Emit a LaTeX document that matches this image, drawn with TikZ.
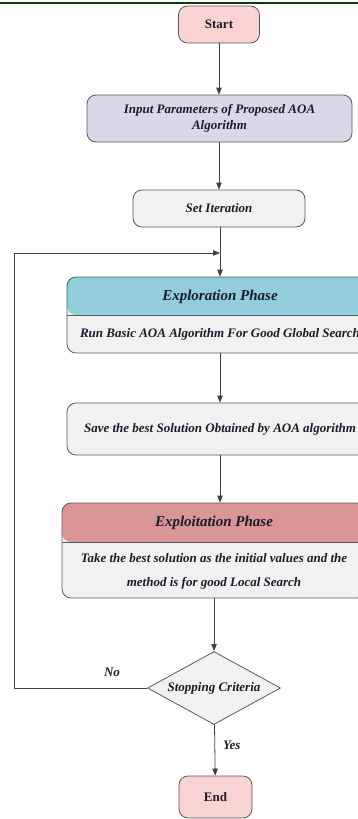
\documentclass[tikz,border=0pt]{standalone}
\usepackage{fontspec}
\setmainfont{Liberation Serif}
\usetikzlibrary{shapes.geometric,arrows.meta,calc}
\definecolor{topgreen}{HTML}{0E3A12}
\definecolor{bordergray}{HTML}{5A5A5A}
\definecolor{linegray}{HTML}{404040}
\definecolor{pinkfill}{HTML}{F9D2D2}
\definecolor{lavfill}{HTML}{DCD7E8}
\definecolor{lightfill}{HTML}{F1F1F1}
\definecolor{headblue}{HTML}{92CDDC}
\definecolor{headred}{HTML}{D99694}
\definecolor{txt}{HTML}{1C1C28}
\begin{document}
\begin{tikzpicture}[x=1pt,y=-1pt,
  box/.style={draw=bordergray, line width=0.8pt, rounded corners=9pt, inner sep=0pt, align=center, text=txt,
    font=\fontsize{13}{16}\selectfont\bfseries\itshape},
  termbox/.style={box, fill=pinkfill, font=\fontsize{13}{16}\selectfont\bfseries},
  lbl/.style={text=txt, inner sep=0pt, align=center, font=\fontsize{13}{16}\selectfont\bfseries\itshape},
  titlelbl/.style={lbl, font=\fontsize{15}{18}\selectfont\bfseries\itshape},
  arr/.style={draw=linegray, line width=0.8pt, -{Triangle[length=7pt,width=5.5pt]}},
  plain/.style={draw=linegray, line width=0.8pt}
]
\useasboundingbox (0,0) rectangle (358,819);
\clip (0,0) rectangle (358,819);
\fill[topgreen] (0,1.5) rectangle (358,4);

\node[termbox, minimum width=81pt, minimum height=37pt] (start) at (219,24.5) {Start};
\node[box, fill=lavfill, minimum width=265pt, minimum height=47pt] (input) at (219.5,118.5)
  {Input Parameters of Proposed AOA\\Algorithm};
\node[box, fill=lightfill, minimum width=172pt, minimum height=37pt] (setit) at (219,208.5) {Set Iteration};

\coordinate (merge) at (220,253);

\node[box, fill=lightfill, minimum width=306pt, minimum height=76pt,
  path picture={\fill[headblue] (path picture bounding box.north west) rectangle (path picture bounding box.east);
    \draw[bordergray, line width=0.8pt] (path picture bounding box.west) -- (path picture bounding box.east);}]
  (explore) at (220,315) {};
\node[titlelbl] (exploretitle) at (220,296.5) {Exploration Phase};
\node[lbl] (exploretext) at (220,334) {Run Basic AOA Algorithm For Good Global Search};

\node[box, fill=lightfill, minimum width=306pt, minimum height=52pt] (save) at (220,429)
  {Save the best Solution Obtained by AOA algorithm};

\node[box, fill=lightfill, minimum width=304pt, minimum height=95pt,
  path picture={\fill[headred] (path picture bounding box.north west) rectangle ($(path picture bounding box.north east)+(0,39)$);
    \draw[bordergray, line width=0.8pt] ($(path picture bounding box.north west)+(0,39)$) -- ($(path picture bounding box.north east)+(0,39)$);}]
  (exploit) at (214,550.5) {};
\node[titlelbl] (exploittitle) at (214,523) {Exploitation Phase};
\node[lbl, font=\fontsize{13}{24}\selectfont\bfseries\itshape] (exploittext) at (214,571)
  {Take the best solution as the initial values and the\\method is for good Local Search};

\node[diamond, aspect=1.82, draw=bordergray, line width=0.8pt, fill=lightfill, inner sep=0pt,
  minimum width=133pt, minimum height=73pt, lbl] (stop) at (214,688) {Stopping Criteria};

\node[termbox, minimum width=73pt, minimum height=42pt] (end) at (215.5,797) {End};

\coordinate (loopx) at (14,688);

\draw[arr] (start.south) -- (input.north -| start.south);
\draw[arr] (input.south -| setit.north) -- (setit);
\draw[arr] (setit.south -| merge) -- (explore.north -| merge);
\draw[arr] (explore.south -| merge) -- (save.north -| merge);
\draw[arr] (save.south -| merge) -- (exploit.north -| merge);
\draw[arr] (exploit.south -| stop.north) -- (stop);
\draw[arr] (stop) -- node[lbl, right=8pt, pos=0.4] (yes) {Yes} (end);
\draw[arr] (stop.west) -- (loopx) |- (merge);
\node[lbl] (no) at (112,672) {No};
\end{tikzpicture}
\end{document}
